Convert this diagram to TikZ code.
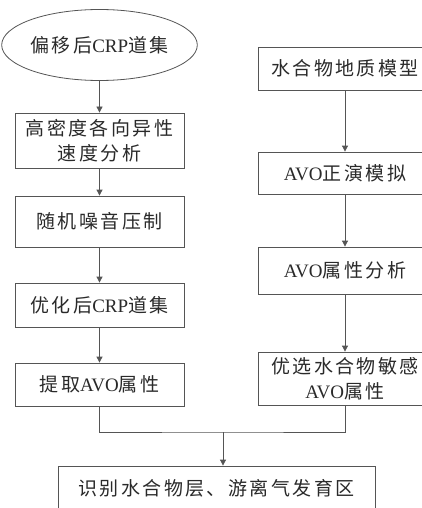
\documentclass[tikz,border=0pt]{standalone}
\usepackage{fontspec}
\setmainfont{Liberation Serif}
\newfontfamily\cjk[LetterSpace=13]{Noto Sans CJK SC}
\usetikzlibrary{shapes.geometric,arrows.meta}
\definecolor{linec}{HTML}{555555}
\definecolor{txtc}{HTML}{2A2A2A}
\begin{document}
\begin{tikzpicture}[x=1pt,y=-1pt,
  box/.style={draw=linec, line width=0.8pt, inner sep=0pt, align=center, text=txtc,
    font=\fontsize{19}{25}\selectfont},
  oval/.style={box, ellipse},
  conn/.style={draw=linec, line width=0.8pt},
  arr/.style={conn, -{Triangle[length=6pt,width=6pt]}}]
\useasboundingbox (0,0) rectangle (422,508);
\fill[white] (0,0) rectangle (422,508);
\clip (0,0) rectangle (422,508);
% left column
\node[oval, minimum width=174pt, minimum height=71pt] (ell) at (99.5,45) {{\cjk 偏移后}CRP{\cjk 道集}};
\node[box, minimum width=169pt, minimum height=55pt] (b1) at (99.5,140.5) {{\cjk 高密度各向异性}\\{\cjk 速度分析}};
\node[box, minimum width=169pt, minimum height=51pt] (b2) at (99.5,221.5) {{\cjk 随机噪音压制}};
\node[box, minimum width=169pt, minimum height=44pt] (b3) at (99.5,305) {{\cjk 优化后}CRP{\cjk 道集}};
\node[box, minimum width=169pt, minimum height=43pt] (b4) at (99.5,384.5) {{\cjk 提取}AVO{\cjk 属性}};
% right column
\node[box, minimum width=174pt, minimum height=43pt] (r1) at (345,68.5) {{\cjk 水合物地质模型}};
\node[box, minimum width=174pt, minimum height=42pt] (r2) at (345,173) {AVO{\cjk 正演模拟}};
\node[box, minimum width=174pt, minimum height=47pt] (r3) at (345,270.5) {AVO{\cjk 属性分析}};
\node[box, minimum width=174pt, minimum height=53pt] (r4) at (345,378.5) {{\cjk 优选水合物敏感}\\AVO{\cjk 属性}};
% bottom
\node[box, minimum width=317pt, minimum height=44pt] (bot) at (216.5,488) {{\cjk 识别水合物层、游离气发育区}};
% connectors
\draw[arr] (ell.south) -- (b1.north);
\draw[arr] (b1.south) -- (b2.north);
\draw[arr] (b2.south) -- (b3.north);
\draw[arr] (b3.south) -- (b4.north);
\draw[arr] (r1.south) -- (r2.north);
\draw[arr] (r2.south) -- (r3.north);
\draw[arr] (r3.south) -- (r4.north);
\coordinate (j) at (223,432);
\draw[conn] (b4.south) |- (j) -| (r4.south);
\draw[arr] (j) -- (j |- bot.north);
\end{tikzpicture}
\end{document}
